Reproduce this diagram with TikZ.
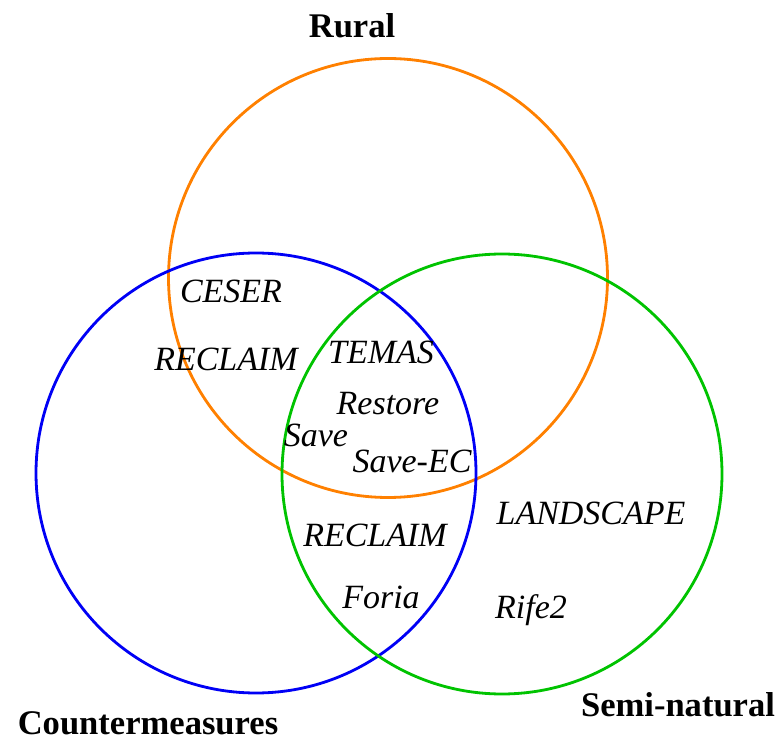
\documentclass[tikz,border=0pt]{standalone}
\usepackage{fontspec}
\setmainfont{Liberation Serif}
\usepackage{tikz}
\usetikzlibrary{positioning}
\definecolor{ruralorange}{RGB}{255,128,0}
\definecolor{cmblue}{RGB}{0,0,245}
\definecolor{semigreen}{RGB}{0,195,0}
\tikzset{
  set/.style={line width=2.4pt},
  proj/.style={anchor=base, inner sep=0pt, font=\fontsize{29}{34}\selectfont\itshape},
  title/.style={anchor=base, inner sep=0pt, font=\fontsize{29.5}{35}\selectfont\bfseries}
}

\begin{document}
\begin{tikzpicture}[x=0.03cm, y=-0.03cm]
        \useasboundingbox (0,0) rectangle (777,740);

        \draw[set, ruralorange] (388,278) circle (219.5);
        \draw[set, cmblue] (256,473) circle (220);
        \draw[set, semigreen] (502,474) circle (220);

        \node (rural) [title] at (352,38) {Rural};
        \node (cm) [title] at (148,734) {Countermeasures};
        \node (semi) [title] at (678,716) {Semi-natural};

        \node (ceser) [proj] at (231,303) {CESER};
        \node (reclaim1) [proj] at (226,371) {RECLAIM};
        \node (temas) [proj] at (381,364) {TEMAS};
        \node (restore) [proj] at (388,415) {Restore};
        \node (save) [proj] at (316,447) {Save};
        \node (saveec) [proj] at (412,473) {Save-EC};
        \node (reclaim2) [proj] at (375,547) {RECLAIM};
        \node (foria) [proj] at (381,608) {Foria};
        \node (landscape) [proj] at (591,525) {LANDSCAPE};
        \node (rife) [proj] at (531,618) {Rife2};
      \end{tikzpicture}
\end{document}
